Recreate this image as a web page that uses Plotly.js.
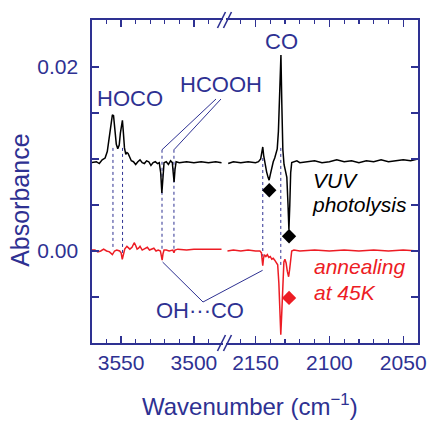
<!DOCTYPE html>
<html><head><meta charset="utf-8">
<script src="https://cdn.plot.ly/plotly-3.0.1.min.js"></script>
<style>html,body{margin:0;padding:0;background:#fff}#chart{width:427px;height:423px}</style>
</head><body><div id="chart"></div>
<script>
// ---- data ----
const blackLeftNu  = [3570,3567,3565,3563,3561,3559.5,3558,3557,3556,3555.2,3554.3,3553.3,3552.3,3551.3,3550.5,3549.7,3549.1,3548.5,3547.7,3546.8,3546,3545.2,3544,3543,3541.5,3540,3538.5,3537,3535.5,3534,3532.5,3531,3529.5,3528,3526.5,3525,3523.8,3522.8,3522.0,3521.3,3520.5,3519,3517.5,3516,3514.8,3514.2,3513.6,3513,3512.2,3510,3505,3500,3495,3490,3485,3481];
const blackLeftAbs = [0.0096,0.0097,0.0095,0.0099,0.0101,0.0108,0.0125,0.0140,0.0148,0.0147,0.0133,0.0116,0.0111,0.0115,0.0128,0.0140,0.0142,0.0130,0.0112,0.0105,0.0107,0.0106,0.0101,0.0098,0.0097,0.0094,0.0097,0.0099,0.0096,0.0095,0.0098,0.0097,0.0093,0.0096,0.0097,0.0095,0.0096,0.0085,0.0063,0.0080,0.0096,0.0097,0.0094,0.0098,0.0096,0.0085,0.0075,0.0088,0.0097,0.0096,0.0097,0.0096,0.0097,0.0096,0.0097,0.0096];

const blackRightNu  = [2168.5,2165,2160,2155,2150,2148,2146.5,2145.6,2145.1,2144.5,2143.5,2142.5,2141.5,2140.8,2140,2139,2138,2137,2136,2135.3,2134.5,2133.8,2133.2,2132.8,2132.2,2131.5,2130.7,2129.8,2128.8,2128,2127.4,2126.8,2126.2,2125.5,2124,2122,2120,2115,2110,2105,2100,2095,2090,2085,2080,2075,2070,2065,2060,2055,2050,2045,2040];
const blackRightAbs = [0.0095,0.0097,0.0096,0.0097,0.0096,0.0097,0.0100,0.0110,0.0113,0.0104,0.0092,0.0086,0.0080,0.0077,0.0083,0.0092,0.0097,0.0101,0.0106,0.0111,0.0130,0.0175,0.0205,0.0213,0.0160,0.0110,0.0094,0.0088,0.0080,0.0050,0.0023,0.0050,0.0085,0.0096,0.0097,0.0098,0.0096,0.0097,0.0098,0.0096,0.0097,0.0099,0.0097,0.0098,0.0096,0.0098,0.0097,0.0099,0.0097,0.0098,0.0099,0.0098,0.0100];

const redLeftNu  = [3570,3568,3566,3564,3562,3560,3558,3556,3554.5,3553,3551,3550,3549.2,3548.5,3547.5,3546,3545,3544,3542.5,3541,3540,3539,3538,3537,3535.5,3534,3532,3530.5,3529,3527.5,3526,3524.5,3523,3522.3,3521.8,3521.2,3520.5,3519,3517,3514.5,3513.7,3513,3511,3505,3500,3490,3481];
const redLeftAbs = [0.0001,0.0001,-0.0001,0.0000,0.0002,0.0000,-0.0001,-0.0004,0.0000,0.0001,0.0000,-0.0002,-0.0009,-0.0004,0.0002,0.0005,0.0003,0.0002,0.0004,0.0009,0.0006,0.0002,0.0003,0.0005,0.0001,0.0002,0.0004,0.0001,0.0002,0.0003,0.0000,0.0001,0.0000,-0.0005,-0.0010,-0.0003,0.0001,0.0001,0.0000,0.0001,-0.0002,0.0001,0.0002,0.0001,0.0002,0.0002,0.0002];

const redRightNu  = [2169,2165,2160,2155,2150,2147,2146,2145.5,2145.1,2144.6,2144,2143,2142,2141,2140,2139,2138,2137,2136,2135,2134.2,2133.5,2132.9,2132.3,2131.6,2130.8,2130.1,2129.3,2128.5,2127.6,2126.9,2126.2,2125.5,2124,2120,2110,2100,2090,2080,2070,2060,2050,2040];
const redRightAbs = [0.0000,0.0001,0.0000,0.0001,0.0000,0.0000,-0.0002,-0.0010,-0.0016,-0.0008,-0.0004,-0.0006,-0.0004,-0.0007,-0.0006,-0.0009,-0.0008,-0.0010,-0.0012,-0.0015,-0.0035,-0.0070,-0.0091,-0.0070,-0.0030,-0.0012,-0.0009,-0.0013,-0.0022,-0.0028,-0.0020,-0.0006,0.0000,0.0001,0.0000,0.0001,0.0000,0.0001,0.0000,0.0001,0.0000,0.0001,0.0000];

const blackDiamondNu  = [2140.7, 2127.3];
const blackDiamondAbs = [0.0066, 0.0016];
const redDiamondNu    = [2127.3];
const redDiamondAbs   = [-0.0051];

const dashLeftNu     = [3555.6, 3549.0, 3521.9, 3513.7];
const dashLeftTop    = [0.0112, 0.0112, 0.0110, 0.0110];
const dashLeftBottom = [0.0001, -0.0004, 0.0000, 0.0000];
const dashRightNu     = [2145.1, 2132.9];
const dashRightTop    = [0.0101, 0.0112];
const dashRightBottom = [-0.0006, -0.0016];

const ohcoLeftPoint  = [3521.5, -0.0012];
const ohcoRightPoint = [2145.2, -0.0021];

const yTickVals = [0, 0.02];
const yTickText = ['0.00', '0.02'];
const xLeftTickVals = [3550, 3500];
const xRightTickVals = [2150, 2100, 2050];

// ---- layout helpers ----
const NAVY = '#2e3192', RED = '#ed1c24';
const FONT = 'Liberation Sans, Arial, sans-serif';
const domL = [0, 0.4018], domR = [0.411, 1];
const rngL = [3570, 3480], rngR = [2170, 2040], rngY = [-0.0100, 0.0251];
function pxL(nu){return domL[0] + (nu - rngL[0])/(rngL[1]-rngL[0])*(domL[1]-domL[0]);}
function pxR(nu){return domR[0] + (nu - rngR[0])/(rngR[1]-rngR[0])*(domR[1]-domR[0]);}
function py(a){return (a - rngY[0])/(rngY[1]-rngY[0]);}

const lineBlack = {color:'#000', width:1.5};
const lineRed = {color:RED, width:1.5};
const traces = [
  {x:blackLeftNu, y:blackLeftAbs, xaxis:'x', yaxis:'y', mode:'lines', line:lineBlack},
  {x:redLeftNu, y:redLeftAbs, xaxis:'x', yaxis:'y', mode:'lines', line:lineRed},
  {x:blackRightNu, y:blackRightAbs, xaxis:'x2', yaxis:'y2', mode:'lines', line:lineBlack},
  {x:redRightNu, y:redRightAbs, xaxis:'x2', yaxis:'y2', mode:'lines', line:lineRed},
  {x:blackDiamondNu, y:blackDiamondAbs, xaxis:'x2', yaxis:'y2', mode:'markers', marker:{symbol:'diamond', size:11, color:'#000'}},
  {x:redDiamondNu, y:redDiamondAbs, xaxis:'x2', yaxis:'y2', mode:'markers', marker:{symbol:'diamond', size:11, color:RED}}
];

const shapes = [];
const dashStyle = {color:NAVY, width:1, dash:'3px,3px'};
dashLeftNu.forEach((nu,i)=>shapes.push({type:'line', xref:'x', yref:'y', x0:nu, x1:nu, y0:dashLeftTop[i], y1:dashLeftBottom[i], line:dashStyle, layer:'below'}));
dashRightNu.forEach((nu,i)=>shapes.push({type:'line', xref:'x2', yref:'y2', x0:nu, x1:nu, y0:dashRightTop[i], y1:dashRightBottom[i], line:dashStyle, layer:'below'}));
const solid = {color:NAVY, width:1};
// HCOOH pointer lines
shapes.push({type:'line', xref:'paper', yref:'paper', x0:pxL(dashLeftNu[2]), y0:py(dashLeftTop[2]), x1:0.3804, y1:0.7554, line:solid});
shapes.push({type:'line', xref:'paper', yref:'paper', x0:pxL(dashLeftNu[3]), y0:py(dashLeftTop[3]), x1:0.3957, y1:0.7554, line:solid});
// OH...CO V lines
const apex = [0.3405, 0.1269];
shapes.push({type:'line', xref:'paper', yref:'paper', x0:pxL(ohcoLeftPoint[0]), y0:py(ohcoLeftPoint[1]), x1:apex[0], y1:apex[1], line:solid});
shapes.push({type:'line', xref:'paper', yref:'paper', x0:apex[0], y0:apex[1], x1:pxR(ohcoRightPoint[0]), y1:py(ohcoRightPoint[1]), line:solid});
// axis break marks
const bw = 0.0123, bh = 0.0248, bc = [0.3972, 0.4156];
[0,1].forEach(yc=>bc.forEach(xc=>shapes.push({type:'line', xref:'paper', yref:'paper', x0:xc-bw, y0:yc-bh, x1:xc+bw, y1:yc+bh, line:{color:NAVY, width:1.6}})));

function ann(text, x, y, opts){return Object.assign({text, x, y, xref:'paper', yref:'paper', showarrow:false, xanchor:'center', yanchor:'middle', font:{family:FONT, size:22, color:NAVY}}, opts||{});}
const annotations = [
  ann('HOCO', 0.1166, 0.7585),
  ann('HCOOH', 0.3957, 0.7988),
  ann('CO', 0.5828, 0.9319),
  ann('<i>VUV</i>', 0.6718, 0.5046, {xanchor:'left', font:{family:FONT, size:21, color:'#000'}}),
  ann('<i>photolysis</i>', 0.6687, 0.4303, {xanchor:'left', font:{family:FONT, size:21, color:'#000'}}),
  ann('<i>annealing</i>', 0.6748, 0.2353, {xanchor:'left', font:{family:FONT, size:21, color:RED}}),
  ann('<i>at 45K</i>', 0.6748, 0.1548, {xanchor:'left', font:{family:FONT, size:21, color:RED}}),
  ann('OH···CO', 0.3313, 0.0991),
  // axis titles
  ann('Wavenumber (cm<sup>−1</sup>)', 0.485, -0.193, {font:{family:FONT, size:24, color:NAVY}}),
  ann('Absorbance', -0.221, 0.443, {textangle:-90, font:{family:FONT, size:25, color:NAVY}})
];

const axCommon = {showline:true, linecolor:NAVY, linewidth:1.6, ticks:'inside', tickcolor:NAVY, tickwidth:1.4, ticklen:7,
  tickfont:{family:FONT, size:21, color:NAVY}, showgrid:false, zeroline:false, fixedrange:true};
const layout = {
  width:427, height:423, margin:{l:92, r:9, t:20, b:80}, showlegend:false,
  paper_bgcolor:'#fff', plot_bgcolor:'rgba(0,0,0,0)', font:{family:FONT, color:NAVY},
  xaxis:Object.assign({}, axCommon, {domain:domL, range:rngL, anchor:'y', mirror:'ticks', tickvals:xLeftTickVals,
    minor:{dtick:10, tick0:0, ticklen:4, ticks:'inside', tickcolor:NAVY, tickwidth:1.2}}),
  xaxis2:Object.assign({}, axCommon, {domain:domR, range:rngR, anchor:'y2', mirror:'ticks', tickvals:xRightTickVals,
    minor:{dtick:10, tick0:0, ticklen:4, ticks:'inside', tickcolor:NAVY, tickwidth:1.2}}),
  yaxis:Object.assign({}, axCommon, {range:rngY, anchor:'x', tickvals:yTickVals, ticktext:yTickText, ticklabelstandoff:8,
    minor:{dtick:0.005, tick0:0, ticklen:7, ticks:'inside', tickcolor:NAVY, tickwidth:1.4}}),
  yaxis2:Object.assign({}, axCommon, {range:rngY, anchor:'x2', side:'right', showticklabels:false, tickvals:yTickVals,
    minor:{dtick:0.005, tick0:0, ticklen:7, ticks:'inside', tickcolor:NAVY, tickwidth:1.4}}),
  shapes, annotations
};
Plotly.newPlot('chart', traces, layout, {staticPlot:true, displayModeBar:false});
</script></body></html>
